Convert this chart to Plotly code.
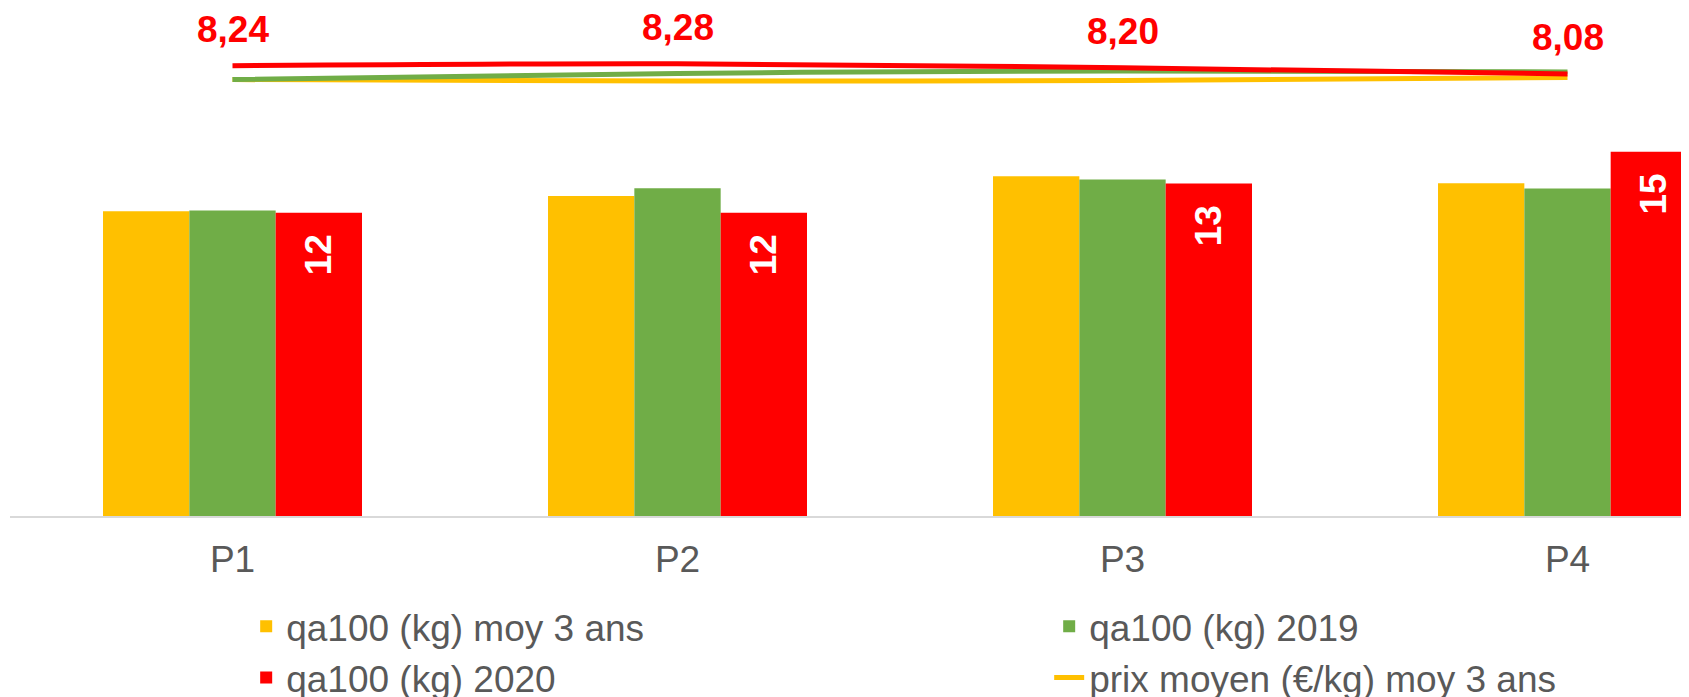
import plotly.graph_objects as go

# categories and values
periods = ['P1', 'P2', 'P3', 'P4']
qa100_moy3 = [12.29, 12.90, 13.70, 13.41]
qa100_2019 = [12.32, 13.21, 13.57, 13.20]
qa100_2020 = [12.23, 12.23, 13.40, 14.68]

prix_moy3 = [7.97, 7.94, 7.95, 8.01]
prix_2019 = [7.97, 8.09, 8.14, 8.12]
prix_2020 = [8.24, 8.28, 8.20, 8.08]

YELLOW = '#FFC000'
GREEN = '#70AD47'
RED = '#FF0000'
GREY = '#595959'
FONT = 'Arial, Liberation Sans, sans-serif'

fig = go.Figure()

fig.add_trace(go.Bar(x=periods, y=qa100_moy3, name='qa100 (kg) moy 3 ans',
                     marker=dict(color=YELLOW, line=dict(width=0))))
fig.add_trace(go.Bar(x=periods, y=qa100_2019, name='qa100 (kg) 2019',
                     marker=dict(color=GREEN, line=dict(width=0))))
fig.add_trace(go.Bar(
    x=periods, y=qa100_2020, name='qa100 (kg) 2020',
    marker=dict(color=RED, line=dict(width=0)),
    text=[f"{v:.0f}\u2002" for v in qa100_2020],
    textposition='inside', insidetextanchor='end', textangle=-90,
    textfont=dict(family=FONT, size=37, color='white', weight='bold'),
))

# price lines on the secondary axis
fig.add_trace(go.Scatter(x=periods, y=prix_moy3, yaxis='y2', mode='lines',
                         name='prix moyen (€/kg) moy 3 ans',
                         line=dict(color=YELLOW, width=5, shape='spline')))
fig.add_trace(go.Scatter(x=periods, y=prix_2019, yaxis='y2', mode='lines',
                         name='prix moyen (€/kg) 2019', showlegend=False,
                         line=dict(color=GREEN, width=5, shape='spline')))
fig.add_trace(go.Scatter(x=periods, y=prix_2020, yaxis='y2', mode='lines',
                         name='prix moyen (€/kg) 2020', showlegend=False,
                         line=dict(color=RED, width=5, shape='spline')))

for p, v in zip(periods, prix_2020):
    fig.add_annotation(x=p, y=v, yref='y2', text=f"{v:.2f}".replace('.', ','),
                       showarrow=False, yanchor='bottom', yshift=14,
                       font=dict(family=FONT, size=37, color=RED, weight='bold'))

fig.update_layout(
    width=1689, height=697,
    margin=dict(l=2, r=0, t=0, b=189, autoexpand=False),
    barmode='group', bargap=0.418, bargroupgap=0,
    plot_bgcolor='white', paper_bgcolor='white',
    font=dict(family=FONT, size=37, color=GREY),
    xaxis=dict(range=[-0.5, 3.291], showgrid=False, zeroline=False,
               showline=True, linecolor='#D9D9D9', linewidth=2,
               ticks='outside', ticklen=10, tickcolor='rgba(0,0,0,0)',
               tickfont=dict(size=37, color=GREY)),
    yaxis=dict(range=[0, 20.48], visible=False),
    yaxis2=dict(range=[-0.588, 9.373], overlaying='y', visible=False),
    legend=dict(orientation='h', x=0.14, xanchor='left', y=-0.157, yanchor='top',
                entrywidth=758, font=dict(size=37, color=GREY),
                bgcolor='rgba(0,0,0,0)', tracegroupgap=0),
    showlegend=True,
)

fig.write_html("out.html")
